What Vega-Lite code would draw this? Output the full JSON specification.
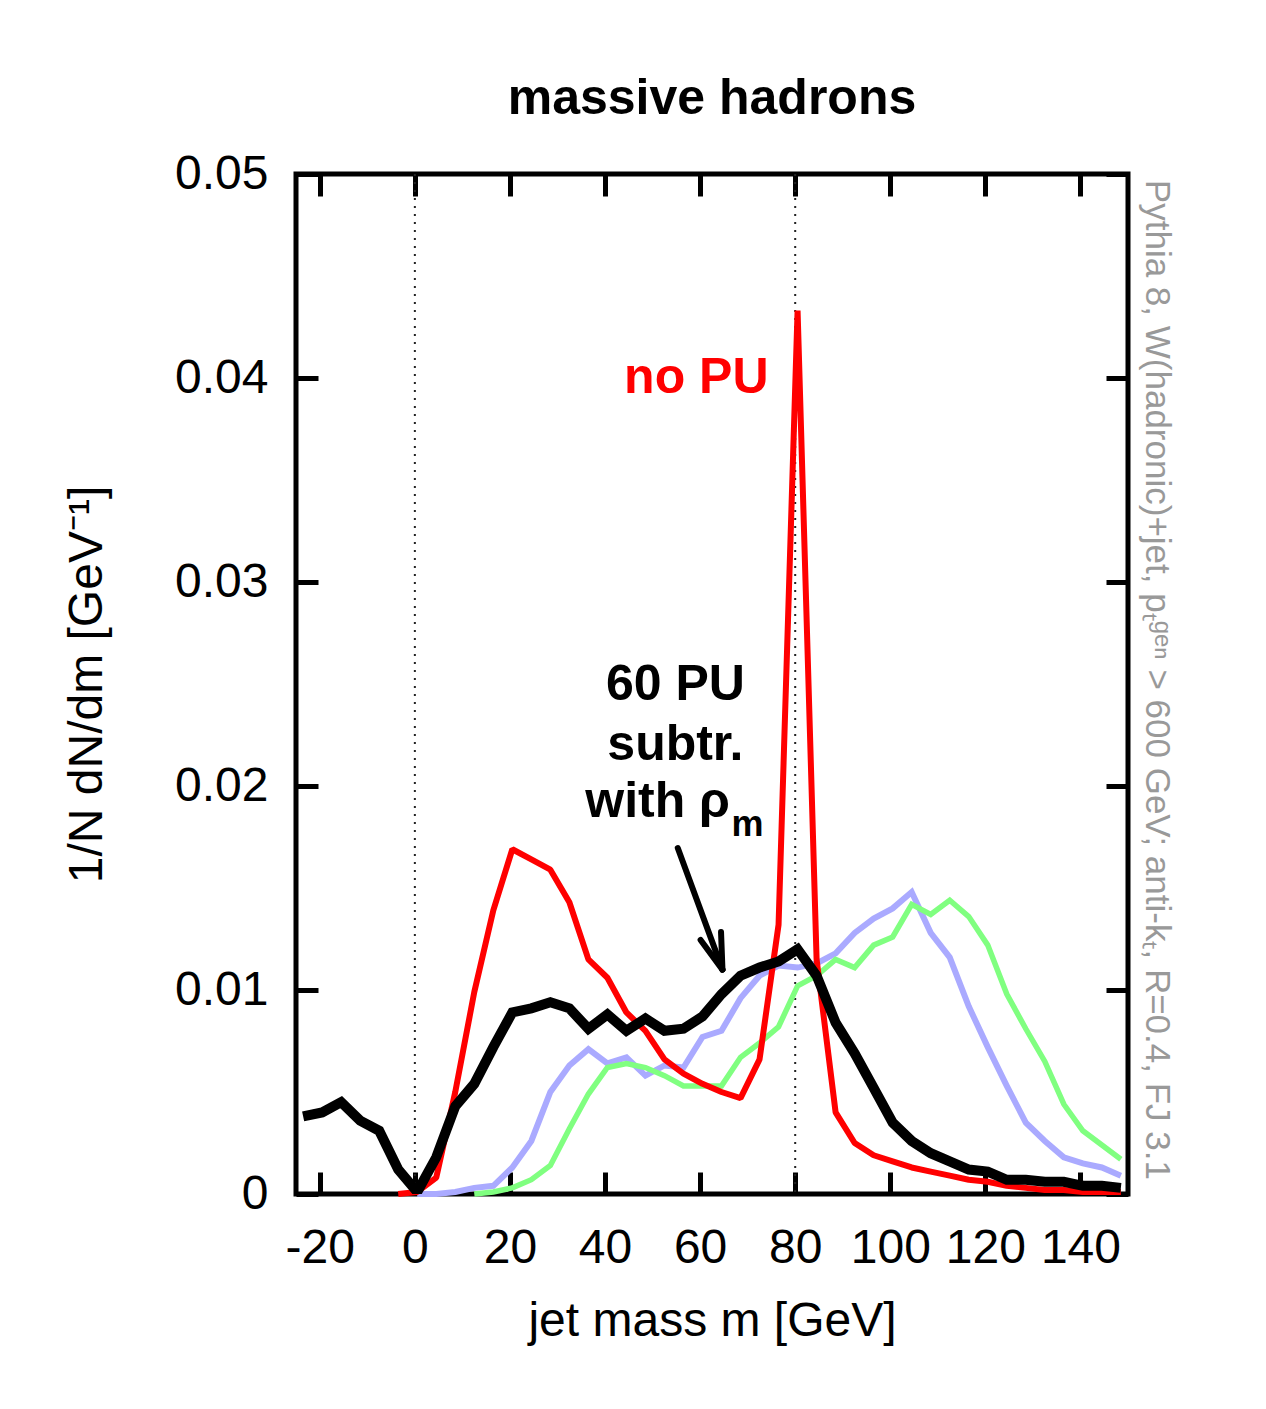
{
  "$schema": "https://vega.github.io/schema/vega-lite/v6.json",
  "width": 832,
  "height": 1020,
  "autosize": "none",
  "padding": {"left": 296, "top": 174, "right": 138, "bottom": 215},
  "background": "white",
  "config": {
    "view": {"stroke": "black", "strokeWidth": 5},
    "font": "Liberation Sans"
  },
  "title": {"text": "massive hadrons", "fontSize": 50, "fontWeight": "bold", "font": "Liberation Sans", "color": "black", "offset": 26},
  "datasets": {
    "black": [
      {"m": -23.5, "v": 0.0038}, {"m": -19.5, "v": 0.0040}, {"m": -15.5, "v": 0.0045}, {"m": -11.5, "v": 0.0036},
      {"m": -7.5, "v": 0.0031}, {"m": -3.5, "v": 0.0012}, {"m": 0.5, "v": 0.0001}, {"m": 4.5, "v": 0.0018},
      {"m": 8.5, "v": 0.0043}, {"m": 12.5, "v": 0.0054}, {"m": 16.5, "v": 0.0072}, {"m": 20.5, "v": 0.0089},
      {"m": 24.5, "v": 0.0091}, {"m": 28.5, "v": 0.0094}, {"m": 32.5, "v": 0.0091}, {"m": 36.5, "v": 0.0081},
      {"m": 40.5, "v": 0.0088}, {"m": 44.5, "v": 0.0080}, {"m": 48.5, "v": 0.0086}, {"m": 52.5, "v": 0.0080},
      {"m": 56.5, "v": 0.0081}, {"m": 60.5, "v": 0.0087}, {"m": 64.5, "v": 0.0098}, {"m": 68.5, "v": 0.0107},
      {"m": 72.5, "v": 0.0111}, {"m": 76.5, "v": 0.0114}, {"m": 80.5, "v": 0.0120}, {"m": 84.5, "v": 0.0107},
      {"m": 88.5, "v": 0.0084}, {"m": 92.5, "v": 0.0069}, {"m": 96.5, "v": 0.0052}, {"m": 100.5, "v": 0.0035},
      {"m": 104.5, "v": 0.0026}, {"m": 108.5, "v": 0.0020}, {"m": 112.5, "v": 0.0016}, {"m": 116.5, "v": 0.0012},
      {"m": 120.5, "v": 0.0011}, {"m": 124.5, "v": 0.0007}, {"m": 128.5, "v": 0.0007}, {"m": 132.5, "v": 0.0006},
      {"m": 136.5, "v": 0.0006}, {"m": 140.5, "v": 0.0004}, {"m": 144.5, "v": 0.0004}, {"m": 148.5, "v": 0.0003}
    ],
    "red": [
      {"m": -3.5, "v": 0.0}, {"m": 0.5, "v": 0.0001}, {"m": 4.5, "v": 0.0008}, {"m": 8.5, "v": 0.0050},
      {"m": 12.5, "v": 0.0099}, {"m": 16.5, "v": 0.0139}, {"m": 20.5, "v": 0.0169}, {"m": 24.5, "v": 0.0164},
      {"m": 28.5, "v": 0.0159}, {"m": 32.5, "v": 0.0143}, {"m": 36.5, "v": 0.0115}, {"m": 40.5, "v": 0.0106},
      {"m": 44.5, "v": 0.0089}, {"m": 48.5, "v": 0.0080}, {"m": 52.5, "v": 0.0066}, {"m": 56.5, "v": 0.0059},
      {"m": 60.5, "v": 0.0054}, {"m": 64.5, "v": 0.0050}, {"m": 68.5, "v": 0.0047}, {"m": 72.5, "v": 0.0066},
      {"m": 76.5, "v": 0.0132}, {"m": 80.5, "v": 0.0433}, {"m": 84.5, "v": 0.0115}, {"m": 88.5, "v": 0.0040},
      {"m": 92.5, "v": 0.0025}, {"m": 96.5, "v": 0.0019}, {"m": 100.5, "v": 0.0016}, {"m": 104.5, "v": 0.0013},
      {"m": 108.5, "v": 0.0011}, {"m": 112.5, "v": 0.0009}, {"m": 116.5, "v": 0.0007}, {"m": 120.5, "v": 0.0006},
      {"m": 124.5, "v": 0.0004}, {"m": 128.5, "v": 0.0003}, {"m": 132.5, "v": 0.0002}, {"m": 136.5, "v": 0.0002},
      {"m": 140.5, "v": 0.0001}, {"m": 144.5, "v": 0.0001}, {"m": 148.5, "v": 0.0001}
    ],
    "blue": [
      {"m": 0.5, "v": 0.0}, {"m": 4.5, "v": 0.0}, {"m": 8.5, "v": 0.0001}, {"m": 12.5, "v": 0.0003},
      {"m": 16.5, "v": 0.0004}, {"m": 20.5, "v": 0.0013}, {"m": 24.5, "v": 0.0026}, {"m": 28.5, "v": 0.0050},
      {"m": 32.5, "v": 0.0063}, {"m": 36.5, "v": 0.0071}, {"m": 40.5, "v": 0.0064}, {"m": 44.5, "v": 0.0067},
      {"m": 48.5, "v": 0.0058}, {"m": 52.5, "v": 0.0063}, {"m": 56.5, "v": 0.0062}, {"m": 60.5, "v": 0.0077},
      {"m": 64.5, "v": 0.0080}, {"m": 68.5, "v": 0.0096}, {"m": 72.5, "v": 0.0107}, {"m": 76.5, "v": 0.0112},
      {"m": 80.5, "v": 0.0111}, {"m": 84.5, "v": 0.0113}, {"m": 88.5, "v": 0.0118}, {"m": 92.5, "v": 0.0128},
      {"m": 96.5, "v": 0.0135}, {"m": 100.5, "v": 0.0140}, {"m": 104.5, "v": 0.0148}, {"m": 108.5, "v": 0.0128},
      {"m": 112.5, "v": 0.0116}, {"m": 116.5, "v": 0.0092}, {"m": 120.5, "v": 0.0072}, {"m": 124.5, "v": 0.0053},
      {"m": 128.5, "v": 0.0035}, {"m": 132.5, "v": 0.0026}, {"m": 136.5, "v": 0.0018}, {"m": 140.5, "v": 0.0015},
      {"m": 144.5, "v": 0.0013}, {"m": 148.5, "v": 0.0009}
    ],
    "green": [
      {"m": 12.5, "v": 0.0}, {"m": 16.5, "v": 0.0001}, {"m": 20.5, "v": 0.0003}, {"m": 24.5, "v": 0.0007},
      {"m": 28.5, "v": 0.0014}, {"m": 32.5, "v": 0.0032}, {"m": 36.5, "v": 0.0049}, {"m": 40.5, "v": 0.0062},
      {"m": 44.5, "v": 0.0064}, {"m": 48.5, "v": 0.0062}, {"m": 52.5, "v": 0.0058}, {"m": 56.5, "v": 0.0053},
      {"m": 60.5, "v": 0.0053}, {"m": 64.5, "v": 0.0053}, {"m": 68.5, "v": 0.0067}, {"m": 72.5, "v": 0.0074},
      {"m": 76.5, "v": 0.0082}, {"m": 80.5, "v": 0.0102}, {"m": 84.5, "v": 0.0107}, {"m": 88.5, "v": 0.0115},
      {"m": 92.5, "v": 0.0111}, {"m": 96.5, "v": 0.0122}, {"m": 100.5, "v": 0.0126}, {"m": 104.5, "v": 0.0142},
      {"m": 108.5, "v": 0.0137}, {"m": 112.5, "v": 0.0144}, {"m": 116.5, "v": 0.0136}, {"m": 120.5, "v": 0.0122},
      {"m": 124.5, "v": 0.0098}, {"m": 128.5, "v": 0.0081}, {"m": 132.5, "v": 0.0065}, {"m": 136.5, "v": 0.0044},
      {"m": 140.5, "v": 0.0031}, {"m": 144.5, "v": 0.0024}, {"m": 148.5, "v": 0.0017}
    ],
    "marks": [{"m": 0}, {"m": 80}],
    "arrow": [
      {"m": 55.3, "v": 0.01696, "m2": 64.7, "v2": 0.0110},
      {"m": 60.1, "v": 0.01245, "m2": 64.7, "v2": 0.0110},
      {"m": 64.4, "v": 0.01284, "m2": 64.7, "v2": 0.0110}
    ],
    "labels": [
      {"m": 59.2, "v": 0.0400, "t": "no PU", "c": "red"},
      {"m": 54.8, "v": 0.02495, "t": "60 PU", "c": "black"},
      {"m": 54.8, "v": 0.0220, "t": "subtr.", "c": "black"}
    ],
    "rho": [
      {"m": 66.3, "v": 0.0192, "t": "with ρ"}
    ],
    "sub": [
      {"m": 66.6, "v": 0.0181, "t": "m"}
    ],
    "side": [
      {"m": 156, "v": 0.0252, "t": "Pythia 8, W(hadronic)+jet, pₜᵍᵉⁿ > 600 GeV; anti-kₜ, R=0.4, FJ 3.1"}
    ]
  },
  "resolve": {"axis": {"x": "independent", "y": "independent"}},
  "layer": [
    {
      "data": {"name": "marks"},
      "mark": {"type": "rule", "strokeDash": [2, 6], "strokeWidth": 2, "color": "#222"},
      "encoding": {
        "x": {"field": "m", "type": "quantitative", "scale": {"domain": [-25, 150], "nice": false, "zero": false}, "axis": null}
      }
    },
    {
      "data": {"name": "blue"},
      "mark": {"type": "line", "color": "#aaaaff", "strokeWidth": 6},
      "encoding": {
        "x": {"field": "m", "type": "quantitative", "scale": {"domain": [-25, 150], "nice": false, "zero": false},
          "axis": {"orient": "bottom", "values": [-20, 0, 20, 40, 60, 80, 100, 120, 140], "labelExpr": "'' + datum.value",
            "domain": false, "grid": false, "tickSize": -22, "tickWidth": 5, "tickColor": "black",
            "labelFont": "Liberation Sans", "labelFontSize": 48, "labelColor": "black", "labelPadding": 52,
            "title": "jet mass m [GeV]", "titleFont": "Liberation Sans", "titleFontSize": 48, "titleFontWeight": "normal", "titleColor": "black", "titlePadding": 25}},
        "y": {"field": "v", "type": "quantitative", "scale": {"domain": [0, 0.05], "nice": false, "zero": true},
          "axis": {"orient": "left", "values": [0, 0.01, 0.02, 0.03, 0.04, 0.05], "labelExpr": "datum.value == 0 ? '0' : format(datum.value, '.2f')",
            "domain": false, "grid": false, "tickSize": -22, "tickWidth": 5, "tickColor": "black",
            "labelFont": "Liberation Sans", "labelFontSize": 48, "labelColor": "black", "labelPadding": 50,
            "title": "1/N dN/dm [GeV⁻¹]", "titleFont": "Liberation Sans", "titleFontSize": 48, "titleFontWeight": "normal", "titleColor": "black", "titlePadding": 63}}
      }
    },
    {
      "data": {"name": "green"},
      "mark": {"type": "line", "color": "#80ff80", "strokeWidth": 5.5},
      "encoding": {
        "x": {"field": "m", "type": "quantitative", "scale": {"domain": [-25, 150], "nice": false, "zero": false},
          "axis": {"orient": "top", "values": [-20, 0, 20, 40, 60, 80, 100, 120, 140], "labels": false, "domain": false, "grid": false,
            "tickSize": -22, "tickWidth": 5, "tickColor": "black", "title": null}},
        "y": {"field": "v", "type": "quantitative", "scale": {"domain": [0, 0.05], "nice": false, "zero": true},
          "axis": {"orient": "right", "values": [0, 0.01, 0.02, 0.03, 0.04, 0.05], "labels": false, "domain": false, "grid": false,
            "tickSize": -22, "tickWidth": 5, "tickColor": "black", "title": null}}
      }
    },
    {
      "data": {"name": "red"},
      "mark": {"type": "line", "color": "#ff0000", "strokeWidth": 6, "strokeJoin": "bevel"},
      "encoding": {
        "x": {"field": "m", "type": "quantitative", "scale": {"domain": [-25, 150], "nice": false, "zero": false}, "axis": null},
        "y": {"field": "v", "type": "quantitative", "scale": {"domain": [0, 0.05], "nice": false, "zero": true}, "axis": null}
      }
    },
    {
      "data": {"name": "black"},
      "mark": {"type": "line", "color": "black", "strokeWidth": 10, "clip": true},
      "encoding": {
        "x": {"field": "m", "type": "quantitative", "scale": {"domain": [-25, 150], "nice": false, "zero": false}, "axis": null},
        "y": {"field": "v", "type": "quantitative", "scale": {"domain": [0, 0.05], "nice": false, "zero": true}, "axis": null}
      }
    },
    {
      "data": {"name": "arrow"},
      "mark": {"type": "rule", "color": "black", "strokeWidth": 6, "strokeCap": "round"},
      "encoding": {
        "x": {"field": "m", "type": "quantitative", "axis": null},
        "y": {"field": "v", "type": "quantitative", "axis": null},
        "x2": {"field": "m2"},
        "y2": {"field": "v2"}
      }
    },
    {
      "data": {"name": "labels"},
      "mark": {"type": "text", "font": "Liberation Sans", "fontWeight": "bold", "fontSize": 50, "baseline": "middle", "align": "center"},
      "encoding": {
        "x": {"field": "m", "type": "quantitative", "axis": null},
        "y": {"field": "v", "type": "quantitative", "axis": null},
        "text": {"field": "t"},
        "color": {"field": "c", "type": "nominal", "scale": null}
      }
    },
    {
      "data": {"name": "rho"},
      "mark": {"type": "text", "font": "Liberation Sans", "fontWeight": "bold", "fontSize": 50, "baseline": "middle", "align": "right", "color": "black"},
      "encoding": {
        "x": {"field": "m", "type": "quantitative", "axis": null},
        "y": {"field": "v", "type": "quantitative", "axis": null},
        "text": {"field": "t"}
      }
    },
    {
      "data": {"name": "sub"},
      "mark": {"type": "text", "font": "Liberation Sans", "fontWeight": "bold", "fontSize": 36, "baseline": "middle", "align": "left", "color": "black"},
      "encoding": {
        "x": {"field": "m", "type": "quantitative", "axis": null},
        "y": {"field": "v", "type": "quantitative", "axis": null},
        "text": {"field": "t"}
      }
    },
    {
      "data": {"name": "side"},
      "mark": {"type": "text", "font": "Liberation Sans", "fontSize": 35, "angle": 90, "color": "#999999", "baseline": "middle", "align": "center"},
      "encoding": {
        "x": {"field": "m", "type": "quantitative", "axis": null},
        "y": {"field": "v", "type": "quantitative", "axis": null},
        "text": {"field": "t"}
      }
    }
  ]
}
